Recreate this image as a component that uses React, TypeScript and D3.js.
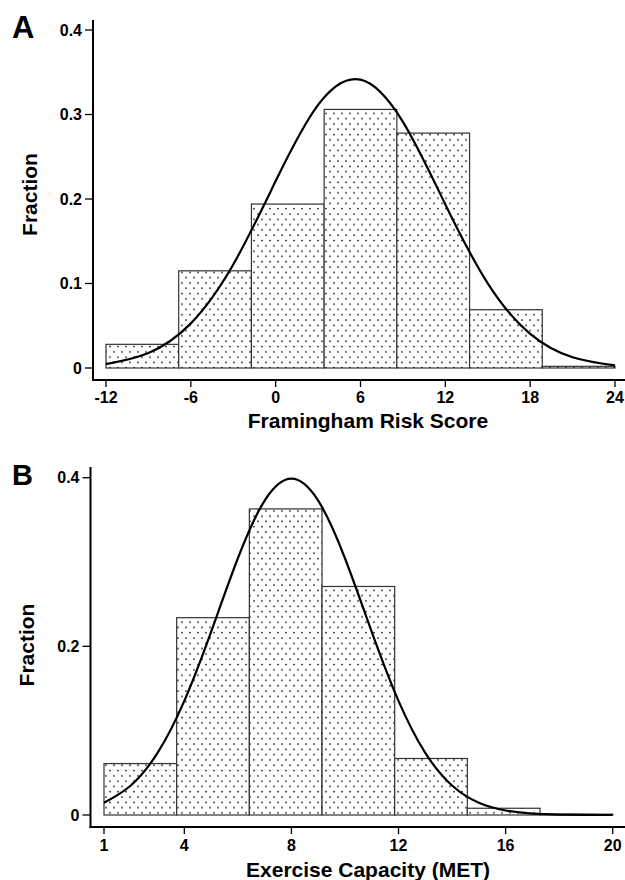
import React from "react";
import * as d3 from "d3";

// panel A: Framingham risk score
const riskEdges = [-12, -6.857, -1.714, 3.429, 8.571, 13.714, 18.857, 24];
const riskFractions = [0.028, 0.115, 0.194, 0.306, 0.278, 0.069, 0.002];
const riskCurveX = [-12, -9, -6, -3, 0, 3, 6, 9, 12, 15, 18, 21, 24];
const riskCurveY = [0.0046, 0.0177, 0.0528, 0.1225, 0.2212, 0.3113, 0.3412, 0.2913, 0.1936, 0.1002, 0.0404, 0.0127, 0.0031];
const riskTicksX = [-12, -6, 0, 6, 12, 18, 24];
const riskTicksY = [0, 0.1, 0.2, 0.3, 0.4];

// panel B: exercise capacity
const metEdges = [1, 3.714, 6.429, 9.143, 11.857, 14.571, 17.286, 20];
const metFractions = [0.061, 0.234, 0.363, 0.271, 0.067, 0.008, 0.001];
const metCurveX = [1, 2, 3, 4, 5, 6, 7, 8, 9, 10, 11, 12, 13, 14, 15, 16, 17, 18, 19, 20];
const metCurveY = [0.0145, 0.035, 0.0736, 0.1353, 0.2172, 0.3045, 0.3729, 0.399, 0.3729, 0.3045, 0.2172, 0.1353, 0.0736, 0.035, 0.0145, 0.0053, 0.0017, 0.0005, 0.0001, 0.0];
const metTicksX = [1, 4, 8, 12, 16, 20];
const metTicksY = [0, 0.2, 0.4];

const font = "'Liberation Sans', Arial, sans-serif";

type PanelProps = {
  letter: string;
  xLabel: string;
  edges: number[];
  fractions: number[];
  curveX: number[];
  curveY: number[];
  ticksX: number[];
  ticksY: number[];
  xDomain: [number, number];
  xRange: [number, number];
  yRange: [number, number];
  axisLeft: number;
  axisBottom: number;
  axisTop: number;
  letterY: number;
  letterSize: number;
  fracX: number;
  fracY: number;
  tickLabelY: number;
  xLabelY: number;
};

const Panel = (p: PanelProps) => {
  const x = d3.scaleLinear().domain(p.xDomain).range(p.xRange);
  const y = d3.scaleLinear().domain([0, 0.4]).range(p.yRange);
  const line = d3
    .line<number>()
    .x((d, i) => x(p.curveX[i]))
    .y((d) => y(d))
    .curve(d3.curveNatural);

  return (
    <g>
      <text x={12} y={p.letterY} fontFamily={font} fontWeight="bold" fontSize={p.letterSize}>
        {p.letter}
      </text>
      {p.fractions.map((f, i) => (
        <rect
          key={i}
          x={x(p.edges[i])}
          y={y(f)}
          width={x(p.edges[i + 1]) - x(p.edges[i])}
          height={y(0) - y(f)}
          fill="url(#dots)"
          stroke="#333"
          strokeWidth={1.2}
        />
      ))}
      <path d={line(p.curveY) || ""} fill="none" stroke="#000" strokeWidth={2.2} />
      {/* axes */}
      <line x1={p.axisLeft} x2={p.axisLeft} y1={p.axisTop} y2={p.axisBottom + 1} stroke="#000" strokeWidth={2} />
      <line x1={p.axisLeft - 1} x2={625} y1={p.axisBottom} y2={p.axisBottom} stroke="#000" strokeWidth={2} />
      {p.ticksY.map((t) => (
        <g key={"y" + t}>
          <line x1={p.axisLeft - 8} x2={p.axisLeft} y1={y(t)} y2={y(t)} stroke="#000" strokeWidth={1.3} />
          <text
            x={p.axisLeft - 11}
            y={y(t)}
            textAnchor="end"
            dominantBaseline="central"
            fontFamily={font}
            fontWeight="bold"
            fontSize={16}
          >
            {String(t)}
          </text>
        </g>
      ))}
      {p.ticksX.map((t) => (
        <g key={"x" + t}>
          <line x1={x(t)} x2={x(t)} y1={p.axisBottom} y2={p.axisBottom + 7} stroke="#000" strokeWidth={1.3} />
          <text x={x(t)} y={p.tickLabelY} textAnchor="middle" fontFamily={font} fontWeight="bold" fontSize={16}>
            {String(t)}
          </text>
        </g>
      ))}
      <text
        transform={`translate(${p.fracX},${p.fracY}) rotate(-90)`}
        textAnchor="middle"
        dominantBaseline="central"
        fontFamily={font}
        fontWeight="bold"
        fontSize={21}
      >
        Fraction
      </text>
      <text x={368} y={p.xLabelY} textAnchor="middle" fontFamily={font} fontWeight="bold" fontSize={21}>
        {p.xLabel}
      </text>
    </g>
  );
};

export default function App() {
  return (
    <svg width={625} height={880} style={{ position: "absolute", left: 0, top: 0, background: "#fff" }}>
      <defs>
        <pattern id="dots" patternUnits="userSpaceOnUse" width={8} height={10.6}>
          <rect width={8} height={10.6} fill="#fff" />
          <circle cx={2} cy={2} r={0.9} fill="#111" />
          <circle cx={6} cy={7.3} r={0.9} fill="#111" />
        </pattern>
      </defs>
      <rect width={625} height={880} fill="#fff" />
      <Panel
        letter="A"
        xLabel="Framingham Risk Score"
        edges={riskEdges}
        fractions={riskFractions}
        curveX={riskCurveX}
        curveY={riskCurveY}
        ticksX={riskTicksX}
        ticksY={riskTicksY}
        xDomain={[-12, 24]}
        xRange={[106, 615]}
        yRange={[368, 30]}
        axisLeft={93}
        axisBottom={380}
        axisTop={20}
        letterY={38}
        letterSize={31}
        fracX={29.5}
        fracY={194.5}
        tickLabelY={403}
        xLabelY={428}
      />
      <Panel
        letter="B"
        xLabel="Exercise Capacity (MET)"
        edges={metEdges}
        fractions={metFractions}
        curveX={metCurveX}
        curveY={metCurveY}
        ticksX={metTicksX}
        ticksY={metTicksY}
        xDomain={[1, 20]}
        xRange={[104, 612.7]}
        yRange={[815, 477.7]}
        axisLeft={90.5}
        axisBottom={827}
        axisTop={467}
        letterY={485}
        letterSize={29}
        fracX={26}
        fracY={645}
        tickLabelY={851}
        xLabelY={877}
      />
    </svg>
  );
}
